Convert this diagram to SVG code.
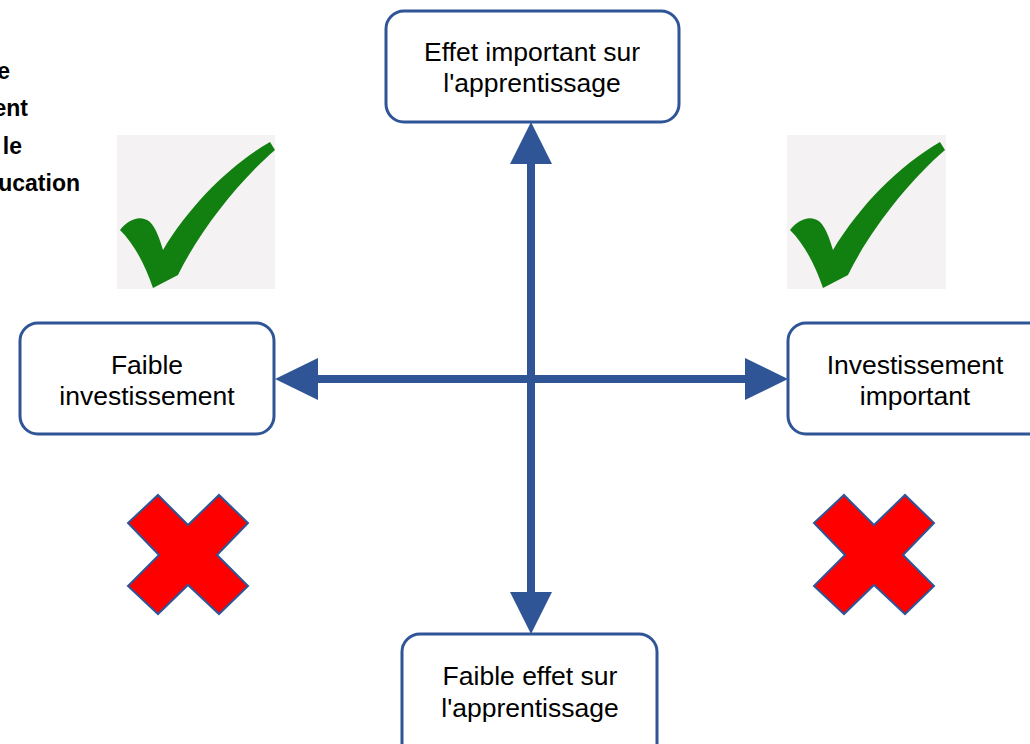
<svg xmlns="http://www.w3.org/2000/svg" width="1030" height="744" viewBox="0 0 1030 744">
<defs>
<style>
.box{fill:#fff;stroke:#2F5597;stroke-width:3}
.lbl{font-family:"Liberation Sans",Arial,sans-serif;font-size:26.5px;fill:#000;text-anchor:middle}
.side{font-family:"Liberation Sans",Arial,sans-serif;font-size:23px;font-weight:bold;fill:#000;text-anchor:end}
.ax{stroke:#2F5597;stroke-width:8;fill:none}
.ah{fill:#2F5597}
.chkbg{fill:#F4F2F2}
.chk{fill:#118011}
.x{fill:#FF0000;stroke:#2F5597;stroke-width:2}
</style>
<path id="check" d="M3,95 C11,85 23,79 33,87 C39,93 43,105 46,115 C73,70 113,30 153,7 L158,15 C123,45 83,95 61,140 L36,153 C28,130 18,110 3,95 Z"/>
<polygon id="cross" points="-30,-60 0,-30 31,-60 60,-32 29,0 60,31 31,59 0,30 -30,59 -60,31 -29,0 -60,-32"/>
</defs>
<rect width="1030" height="744" fill="#fff"/>
<g id="sidetext">
<text class="side" x="10" y="79">e</text>
<text class="side" x="28" y="116">ent</text>
<text class="side" x="22" y="154">le</text>
<text class="side" x="80" y="191">ucation</text>
</g>
<g id="connectors">
<line class="ax" x1="531" y1="160" x2="531" y2="596"/>
<line class="ax" x1="314" y1="379" x2="749" y2="379"/>
<polygon class="ah" points="531,122 552,164 510,164"/>
<polygon class="ah" points="531,634 552,592 510,592"/>
<polygon class="ah" points="275,379 318,358 318,400"/>
<polygon class="ah" points="788,379 745,358 745,400"/>
</g>
<g id="check-left">
<rect class="chkbg" x="117" y="135" width="158" height="154"/>
<use href="#check" class="chk" x="117" y="135"/>
</g>
<g id="check-right">
<rect class="chkbg" x="787" y="135" width="159" height="154"/>
<use href="#check" class="chk" x="787" y="135"/>
</g>
<g id="cross-left">
<use href="#cross" class="x" x="188" y="555"/>
</g>
<g id="cross-right">
<use href="#cross" class="x" x="874" y="555"/>
</g>
<g id="node-top">
<rect class="box" x="386" y="11" width="293" height="111" rx="18"/>
<text class="lbl" x="532" y="61">Effet important sur</text>
<text class="lbl" x="532" y="92">l'apprentissage</text>
</g>
<g id="node-left">
<rect class="box" x="20" y="323" width="254" height="111" rx="18"/>
<text class="lbl" x="147" y="374">Faible</text>
<text class="lbl" x="147" y="405">investissement</text>
</g>
<g id="node-right">
<rect class="box" x="788" y="323" width="260" height="111" rx="18"/>
<text class="lbl" x="915" y="374">Investissement</text>
<text class="lbl" x="915" y="405">important</text>
</g>
<g id="node-bottom">
<rect class="box" x="402" y="634" width="255" height="130" rx="18"/>
<text class="lbl" x="530" y="685">Faible effet sur</text>
<text class="lbl" x="530" y="717">l'apprentissage</text>
</g>
</svg>
